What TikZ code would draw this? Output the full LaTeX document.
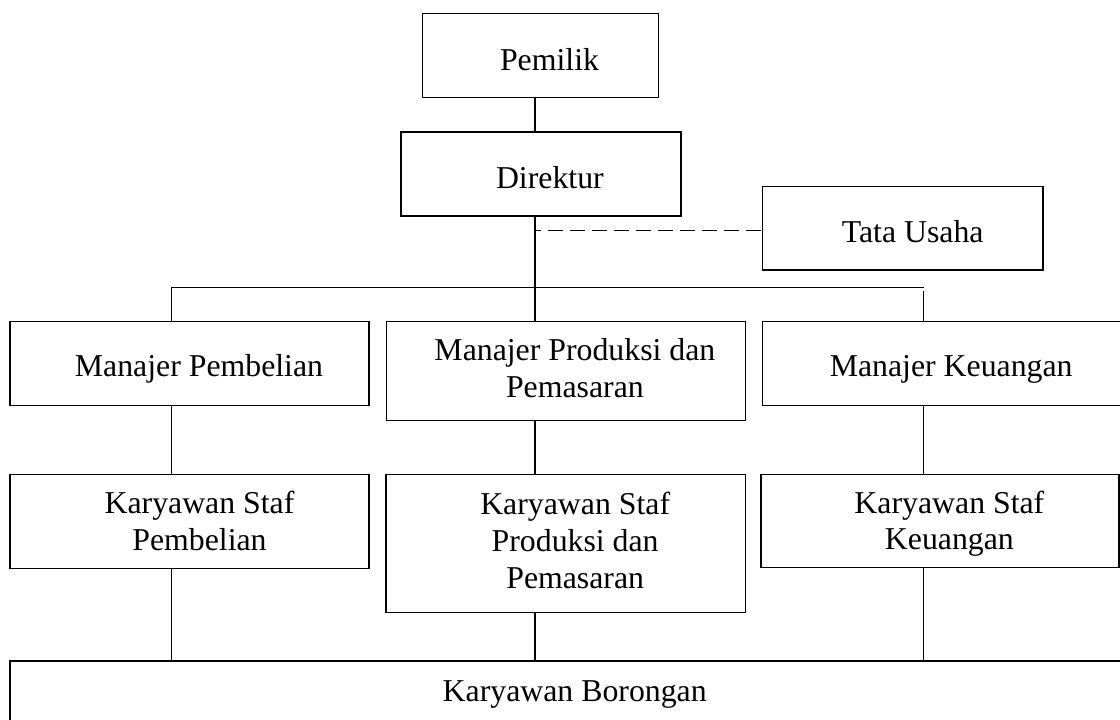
\documentclass[tikz,border=0pt]{standalone}
\usepackage{fontspec}
\setmainfont{Liberation Serif}
\newcommand\myTop{\rule{0pt}{22pt}}
\newcommand\myBot{\rule[-7pt]{0pt}{7pt}}
\begin{document}
\begin{tikzpicture}[x=1pt,y=-1pt,
  box/.style={draw,line width=1.5pt,inner sep=0pt,outer sep=0pt},
  lbl/.style={font=\fontsize{31.8}{36.8}\selectfont,align=center,inner sep=0pt},
  conn/.style={line width=1.5pt},
  dashconn/.style={line width=1.5pt,dash pattern=on 15pt off 7pt,dash phase=9pt}]
\fill[white] (0,0) rectangle (1120,720);
\useasboundingbox (0,0) rectangle (1120,720);

% boxes
\node[box,minimum width=236.4pt,minimum height=84.4pt] (pemilik) at (540.5,55.5) {};
\node[box,minimum width=280.3pt,minimum height=83.7pt] (direktur) at (540.9,173.9) {};
\node[box,minimum width=280.7pt,minimum height=83.3pt] (tatausaha) at (902.7,228.3) {};
\node[box,minimum width=359pt,minimum height=84pt] (mpemb) at (189.5,363.7) {};
\node[box,minimum width=359pt,minimum height=99pt] (mprod) at (565.9,371.2) {};
\node[box,minimum width=359.6pt,minimum height=84pt] (mkeu) at (942.2,363.7) {};
\node[box,minimum width=359pt,minimum height=93.6pt] (kspemb) at (189.5,521.5) {};
\node[box,minimum width=359.4pt,minimum height=137.6pt] (ksprod) at (565.7,543.5) {};
\node[box,minimum width=358.3pt,minimum height=93.2pt] (kskeu) at (939.9,521.1) {};
\node[box,minimum width=1112pt,minimum height=84pt] (borongan) at (566,703) {};

% texts
\node[lbl] (t-pemilik) at ([xshift=9pt,yshift=-7pt]pemilik.center) {\myTop Pemilik\myBot};
\node[lbl] (t-direktur) at ([xshift=9pt,yshift=-7pt]direktur.center) {\myTop Direktur\myBot};
\node[lbl] (t-tatausaha) at ([xshift=10pt,yshift=-6.5pt]tatausaha.center) {\myTop Tata Usaha\myBot};
\node[lbl] (t-mpemb) at ([xshift=9.5pt,yshift=-5.5pt]mpemb.center) {\myTop Manajer Pembelian\myBot};
\node[lbl] (t-mprod) at ([xshift=9pt,yshift=-0.5pt]mprod.center) {\myTop Manajer Produksi dan\\Pemasaran\myBot};
\node[lbl] (t-mkeu) at ([xshift=9pt,yshift=-5.5pt]mkeu.center) {\myTop Manajer Keuangan\myBot};
\node[lbl] (t-kspemb) at ([xshift=10pt,yshift=-2.7pt]kspemb.center) {\myTop Karyawan Staf\\Pembelian\myBot};
\node[lbl] (t-ksprod) at ([xshift=9.5pt,yshift=0pt]ksprod.center) {\myTop Karyawan Staf\\Produksi dan\\Pemasaran\myBot};
\node[lbl] (t-kskeu) at ([xshift=9.5pt,yshift=-2.7pt]kskeu.center) {\myTop Karyawan Staf\\Keuangan\myBot};
\node[lbl] (t-borongan) at (574.7,693.5) {\myTop Karyawan Borongan\myBot};

% connector columns
\coordinate (cL) at (171.4,0);
\coordinate (cM) at (535,0);
\coordinate (cR) at (923.5,0);
\coordinate (busL) at (171.4,287.3);
\coordinate (busR) at (923.6,287.3);
\coordinate (busRgap) at (923.6,290.5);
\coordinate (dashL) at (535,230.3);

\draw[conn] (pemilik.south -| cM) -- (direktur.north -| cM);
\draw[conn] (direktur.south -| cM) -- (mprod.north -| cM);
\draw[dashconn] (dashL) -- (dashL -| tatausaha.west);
\draw[conn] (busL) -- (busR);
\draw[conn] (busL) -- (mpemb.north -| busL);
\draw[conn] (busRgap) -- (mkeu.north -| busRgap);

\draw[conn] (mpemb.south -| cL) -- (kspemb.north -| cL);
\draw[conn] (mprod.south -| cM) -- (ksprod.north -| cM);
\draw[conn] (mkeu.south -| cR) -- (kskeu.north -| cR);

\draw[conn] (kspemb.south -| cL) -- (borongan.north -| cL);
\draw[conn] (ksprod.south -| cM) -- (borongan.north -| cM);
\draw[conn] (kskeu.south -| cR) -- (borongan.north -| cR);
\end{tikzpicture}
\end{document}
